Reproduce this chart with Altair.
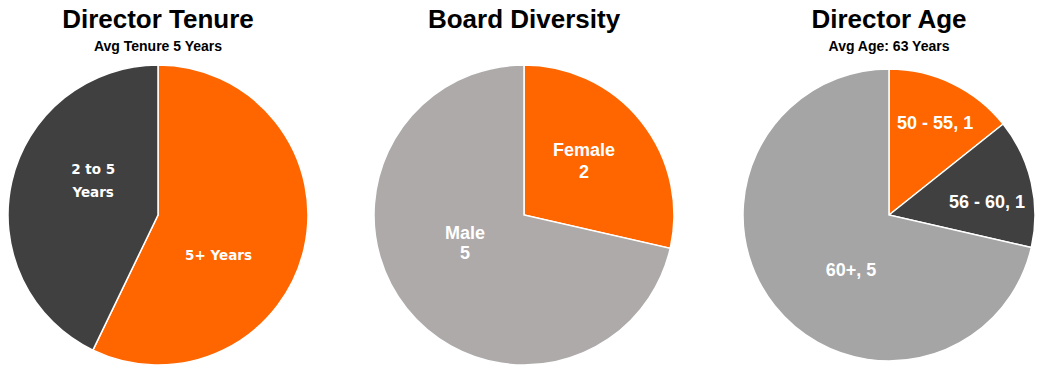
import altair as alt
import pandas as pd

# ---- data ----
tenure_cat = ["5+ Years", "2 to 5\nYears"]
tenure_val = [4, 3]
diversity_cat = ["Female\n2", "Male\n5"]
diversity_val = [2, 5]
age_cat = ["50 - 55, 1", "56 - 60, 1", "60+, 5"]
age_val = [1, 1, 5]

titles = ["Director Tenure", "Board Diversity", "Director Age"]
subtitles = ["Avg Tenure 5 Years", " ", "Avg Age: 63 Years"]

# ---- styles ----
ORANGE = "#FF6600"
DARK = "#404040"
tenure_colors = [ORANGE, DARK]
diversity_colors = [ORANGE, "#AEAAAA"]
age_colors = [ORANGE, DARK, "#A5A5A5"]

# label placement: (radius, dx, dy, lineHeight)
tenure_lab = [(73, -10.6, 25, 22), (73, 6.3, -28.5, 23)]
diversity_lab = [(80, -2.5, -14, 22), (65.5, -7.8, -22, 20)]
age_lab = [(104, 1, 2.5, 20), (99, 1.5, 10, 20), (66, 13.6, 14.5, 20)]


def pie(cats, vals, colors, radius, title, subtitle, lab, font, fsize):
    df = pd.DataFrame({"cat": cats, "val": vals, "ord": list(range(len(cats)))})
    base = alt.Chart(df).encode(
        theta=alt.Theta("val:Q", stack=True),
        order=alt.Order("ord:Q"),
    )
    arc = base.mark_arc(outerRadius=radius, stroke="white", strokeWidth=1.5).encode(
        color=alt.Color("cat:N", scale=alt.Scale(domain=cats, range=colors), legend=None)
    )
    layers = [arc]
    for c, (r, dx, dy, lh) in zip(cats, lab):
        layers.append(
            base.mark_text(
                radius=r, dx=dx, dy=dy, font=font, fontSize=fsize, fontWeight="bold",
                color="white", lineBreak="\n", lineHeight=lh, align="center", baseline="middle",
            ).encode(text=alt.condition(alt.datum.cat == c, alt.Text("cat:N"), alt.value("")))
        )
    return alt.layer(*layers).properties(
        width=304,
        height=310,
        title=alt.TitleParams(
            text=title, subtitle=subtitle, font="Liberation Sans", subtitleFont="Liberation Sans",
            fontSize=26, subtitleFontSize=14, fontWeight="bold", subtitleFontWeight="bold",
            color="black", subtitleColor="black", anchor="middle", offset=6, subtitlePadding=7,
        ),
    )


p1 = pie(tenure_cat, tenure_val, tenure_colors, 150, titles[0], subtitles[0], tenure_lab, "DejaVu Sans", 13.5)
p2 = pie(diversity_cat, diversity_val, diversity_colors, 150, titles[1], subtitles[1], diversity_lab, "Liberation Sans", 18)
p3 = pie(age_cat, age_val, age_colors, 146, titles[2], subtitles[2], age_lab, "Liberation Sans", 18)

chart = (
    alt.hconcat(p1, p2, p3, spacing=60)
    .resolve_scale(color="independent", theta="independent")
    .properties(padding={"left": 5, "top": 7, "right": 0, "bottom": 0}, background="white")
    .configure_view(stroke=None)
)

chart.save("out.html", embed_options={"renderer": "svg", "actions": False})
